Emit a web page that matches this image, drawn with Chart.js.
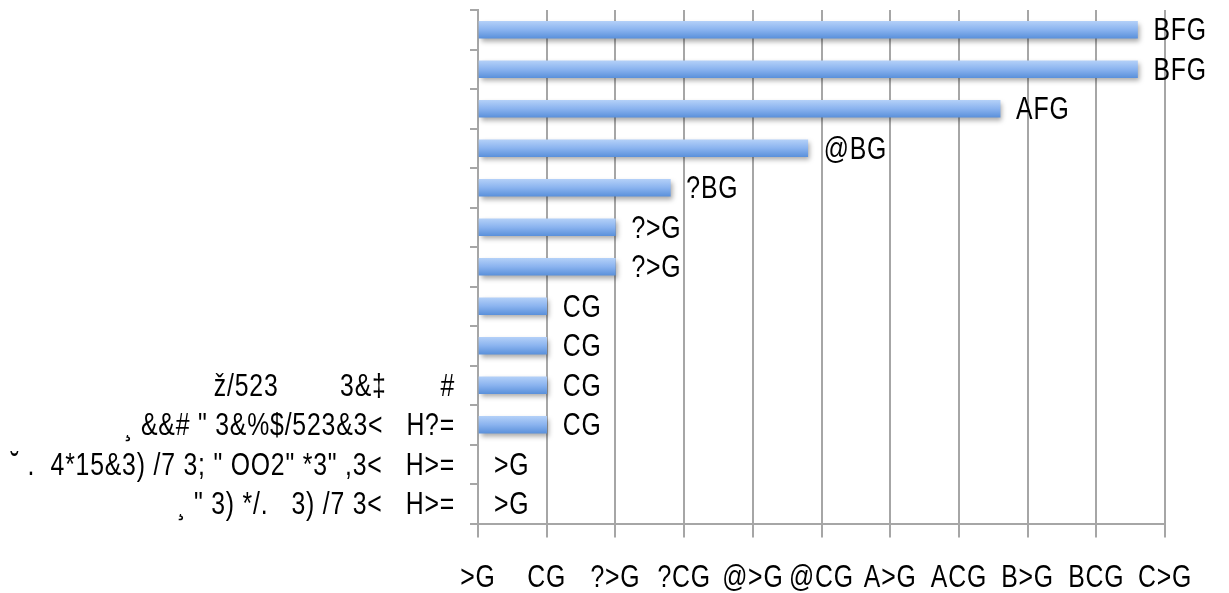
<!DOCTYPE html>
<html>
<head>
<meta charset="utf-8">
<script src="https://cdn.jsdelivr.net/npm/chart.js@4/dist/chart.umd.min.js"></script>
<style>
  html, body { margin: 0; padding: 0; background: #ffffff; }
  #wrap { position: relative; width: 1229px; height: 593px; }
</style>
</head>
<body>
<div id="wrap"><canvas id="c" width="1229" height="593"></canvas></div>
<script>
// Category names (only the last four carry text)
const categories = [
  '', '', '', '', '', '', '', '', '',
  'ž/523        3&‡       #',
  '¸ &&# " 3&%$/523&3<   H?=',
  '˘ .  4*15&3) /7 3; " OO2" *3" ,3<   H>=',
  '¸ " 3) */.   3) /7 3<   H>='
];

// Share of each category, in percent
const values = [48, 48, 38, 24, 14, 10, 10, 5, 5, 5, 5, 0, 0];

// Axis tick labels, 0 to 50 in steps of 5
const tickLabels = ['>G', 'CG', '?>G', '?CG', '@>G', '@CG', 'A>G', 'ACG', 'B>G', 'BCG', 'C>G'];

// Glyph set used by the labels: digits map onto '>'..'G', '%' onto 'G'
function encodeLabel(v) {
  let out = '';
  for (const ch of String(v)) out += String.fromCharCode(62 + Number(ch));
  return out + 'G';
}

const FONT = "31px 'Liberation Sans', Arial, sans-serif";
const NARROW = 0.8;   // horizontal squeeze for a narrow face
const GRID = '#a6a6a6';

// Draws one narrow text run anchored at (x, y)
function narrowText(ctx, text, x, y, align) {
  ctx.save();
  ctx.translate(x, y);
  ctx.scale(NARROW, 1);
  ctx.font = FONT;
  ctx.letterSpacing = '1px';
  ctx.fillStyle = '#000000';
  ctx.textAlign = align;
  ctx.textBaseline = 'middle';
  ctx.fillText(text, 0, 0);
  ctx.restore();
}

const barShadow = {
  id: 'barShadow',
  beforeDatasetsDraw(chart) {
    const ctx = chart.ctx;
    ctx.save();
    ctx.shadowColor = 'rgba(0,0,0,0.35)';
    ctx.shadowBlur = 5;
    ctx.shadowOffsetX = 2;
    ctx.shadowOffsetY = 3;
  },
  afterDatasetsDraw(chart) {
    chart.ctx.restore();
  }
};

// Value labels at the bar ends, plus the axis labels placed from the scales
const textLayer = {
  id: 'textLayer',
  afterDraw(chart) {
    const ctx = chart.ctx;
    const meta = chart.getDatasetMeta(0);
    meta.data.forEach((bar, i) => {
      narrowText(ctx, encodeLabel(values[i]), bar.x + 16, bar.y + 2, 'left');
    });
    const xs = chart.scales.x;
    xs.ticks.forEach((t, i) => {
      narrowText(ctx, tickLabels[i], xs.getPixelForValue(t.value), 578, 'center');
    });
    const ys = chart.scales.y;
    categories.forEach((name, i) => {
      if (name) narrowText(ctx, name, ys.left + ys.width - 8 - 15, ys.getPixelForValue(i) + 2, 'right');
    });
  }
};

new Chart(document.getElementById('c'), {
  type: 'bar',
  data: {
    labels: categories,
    datasets: [{
      data: values,
      barThickness: 17,
      borderWidth: 0,
      backgroundColor(c) {
        const ch = c.chart;
        const y = ch.scales && ch.scales.y;
        if (c.type === 'data' && c.raw === 0) return 'rgba(0,0,0,0)';
        if (!y || c.type !== 'data') return '#80aaea';
        const yc = y.getPixelForValue(c.dataIndex);
        if (!isFinite(yc)) return '#80aaea';
        const g = ch.ctx.createLinearGradient(0, yc - 8.5, 0, yc + 8.5);
        g.addColorStop(0, '#b3d0f8');
        g.addColorStop(0.5, '#8ab3ef');
        g.addColorStop(1, '#5b91db');
        return g;
      }
    }]
  },
  options: {
    indexAxis: 'y',
    responsive: false,
    animation: false,
    layout: { padding: { top: 10, right: 64, left: 0, bottom: 0 } },
    plugins: {
      legend: { display: false },
      tooltip: { enabled: false }
    },
    scales: {
      x: {
        min: 0,
        max: 50,
        ticks: { stepSize: 5, autoSkip: false, display: false },
        grid: { color: GRID, lineWidth: 2, tickLength: 14 },
        border: { color: GRID, width: 2 },
        afterFit(s) { s.height = 69.5; }
      },
      y: {
        ticks: { autoSkip: false, display: false },
        grid: { drawOnChartArea: false, color: GRID, lineWidth: 2, tickLength: 8, offset: true },
        border: { color: GRID, width: 2 },
        afterFit(s) { s.width = 478; }
      }
    }
  },
  plugins: [barShadow, textLayer]
});
</script>
</body>
</html>
